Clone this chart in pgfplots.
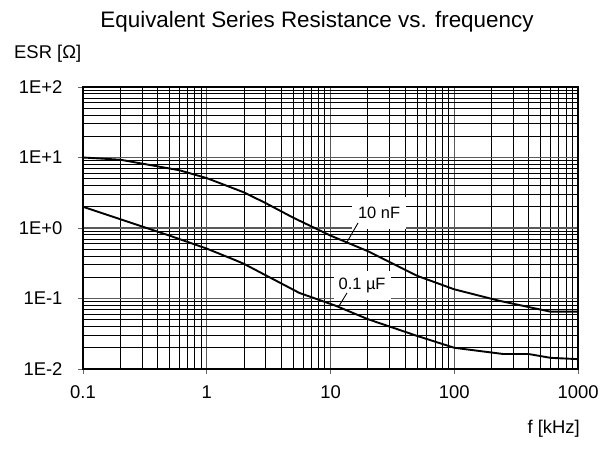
\documentclass[border=0pt]{standalone}
\usepackage{pgfplots}
\pgfplotsset{compat=1.18}
\usepackage{fontspec}
\setmainfont{Liberation Sans}

\begin{document}
\begin{tikzpicture}
\useasboundingbox (0,0) rectangle (608bp,450bp);
\begin{axis}[
    at={(83bp,81bp)}, anchor=south west,
    scale only axis, width=495bp, height=282bp,
    xmode=log, ymode=log,
    xmin=0.1, xmax=1000, ymin=0.01, ymax=100,
    xtick={0.1,1,10,100,1000},
    xticklabels={0.1,1,10,100,1000},
    ytick={0.01,0.1,1,10,100},
    yticklabels={1E-2,1E-1,1E+0,1E+1,1E+2},
    minor xtick={0.2,0.3,0.4,0.5,0.6,0.7,0.8,0.9,2,3,4,5,6,7,8,9,20,30,40,50,60,70,80,90,200,300,400,500,600,700,800,900},
    minor ytick={0.02,0.03,0.04,0.05,0.06,0.07,0.08,0.09,0.2,0.3,0.4,0.5,0.6,0.7,0.8,0.9,2,3,4,5,6,7,8,9,20,30,40,50,60,70,80,90},
    grid=both,
    major grid style={black!65, line width=1.4bp},
    minor grid style={black, line width=0.8bp},
    tick align=outside, tick pos=left,
    major tick length=5bp, minor tick length=0pt,
    tick style={black!60, line width=0.9bp},
    axis line style={black, line width=1.1bp},
    ticklabel style={font=\fontsize{18.5}{20}\selectfont},
    xticklabel style={yshift=-8bp},
    yticklabel style={xshift=-12bp},
]
% 10 nF
\addplot[black, line width=1.9bp] coordinates {
    (0.1,10) (0.2,9.3) (0.6,6.6) (1,5.1) (2,3.2) (3,2.25) (5,1.4)
    (10,0.78) (20,0.47) (50,0.21) (100,0.135) (230,0.093) (600,0.065) (1000,0.065)
};
% 0.1 uF
\addplot[black, line width=1.9bp] coordinates {
    (0.1,2.0) (0.5,0.78) (1,0.51) (1.7,0.35) (2,0.31) (5.6,0.12) (11,0.079)
    (20,0.051) (50,0.0295) (100,0.020) (250,0.0163) (400,0.0163) (600,0.0144) (1000,0.0138)
};
\node[fill=white, inner xsep=6bp, inner ysep=10bp, font=\fontsize{16.5}{18}\selectfont]
    at (axis cs:24.7,1.63) {10 nF};
\draw[black, line width=0.9bp] (axis cs:16.7,1.18) -- (axis cs:13.6,0.633);
\node[fill=white, inner xsep=5bp, inner ysep=7bp, font=\fontsize{16.5}{18}\selectfont]
    at (axis cs:18.0,0.155) {0.1 µF};
\draw[black, line width=0.9bp] (axis cs:13.6,0.120) -- (axis cs:11.7,0.078);
\end{axis}
\node[anchor=base, font=\fontsize{22.5}{24}\selectfont] at (317bp,422bp)
    {Equivalent Series Resistance vs. frequency};
\node[anchor=base west, inner sep=0pt, font=\fontsize{18.5}{20}\selectfont] at (14bp,391bp)
    {ESR [Ω]};
\node[anchor=base east, inner sep=0pt, font=\fontsize{18.5}{20}\selectfont] at (580bp,17bp)
    {f [kHz]};
\end{tikzpicture}
\end{document}
